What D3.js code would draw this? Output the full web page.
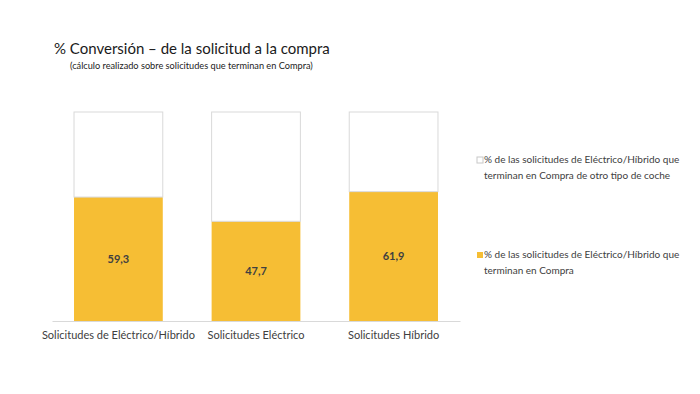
<html>
<head>
<style>
  body { margin: 0; background: #fff; }
  svg text { font-family: Lato, "Open Sans", sans-serif; }
  .cat text { fill: #404040; font-size: 11px; }
  .legend text { fill: #404040; font-size: 10px; }
</style>
</head>
<body>
<svg id="chart" width="700" height="394"></svg>
<script src="https://d3js.org/d3.v7.min.js"></script>
<script>
// data
const categories = ["Solicitudes de Eléctrico/Híbrido", "Solicitudes Eléctrico", "Solicitudes Híbrido"]
const compra = [59.3, 47.7, 61.9]
const otro = compra.map(v => 100 - v)   // rest of the 100% stack
const seriesNames = [
  "% de las solicitudes de Eléctrico/Híbrido que terminan en Compra",
  "% de las solicitudes de Eléctrico/Híbrido que terminan en Compra de otro tipo de coche"
]
const colors = ["#F6BE34", "#ffffff"]

let svg = d3.select("#chart")

// titles
svg.append("text")
  .attr("x", 54).attr("y", 54)
  .attr("font-size", "15px").attr("fill", "#1a1a1a")
  .text("% Conversión – de la solicitud a la compra")
svg.append("text")
  .attr("x", 70).attr("y", 69)
  .attr("font-size", "9.2px").attr("fill", "#222")
  .text("(cálculo realizado sobre solicitudes que terminan en Compra)")

let xScale = d3.scaleBand().domain(categories).range([52, 460]).paddingInner(0.355).paddingOuter(0.16)
let yScale = d3.scaleLinear().domain([0, 100]).range([321, 112])

let rows = categories.map((c, i) => ({cat: c, compra: compra[i], otro: otro[i]}))
let stack = d3.stack().keys(["compra", "otro"])(rows)

let body = svg.append("g")
stack.forEach((layer, li) => {
  body.selectAll(null)
    .data(layer)
    .enter()
    .append("rect")
    .attr("x", d => xScale(d.data.cat))
    .attr("width", xScale.bandwidth())
    .attr("y", d => yScale(d[1]))
    .attr("height", d => yScale(d[0]) - yScale(d[1]))
    .attr("fill", colors[li])
    .attr("stroke", li == 1 ? "#d9d9d9" : "none")
    .attr("stroke-width", 1)
})

// value labels on the yellow part
body.selectAll(".val")
  .data(rows)
  .enter()
  .append("text")
  .attr("class", "val")
  .attr("x", d => xScale(d.cat) + xScale.bandwidth() / 2)
  .attr("y", d => (yScale(0) + yScale(d.compra)) / 2 + 4)
  .attr("text-anchor", "middle")
  .attr("font-size", "11px")
  .attr("font-weight", "bold")
  .attr("fill", "#404040")
  .text(d => d3.format(".1f")(d.compra).replace(".", ","))

// x axis
let xAxis = svg.append("g")
  .attr("class", "cat")
  .attr("transform", "translate(0," + yScale(0) + ")")
  .call(d3.axisBottom(xScale).tickSize(0).tickPadding(10))
xAxis.select("path.domain").attr("stroke", "#d9d9d9")

// legend
let legend = svg.append("g").attr("class", "legend")
let legendItems = [
  {name: seriesNames[1], color: colors[1], y: 163},
  {name: seriesNames[0], color: colors[0], y: 258}
]
legendItems.forEach(item => {
  let g = legend.append("g").attr("transform", "translate(477," + item.y + ")")
  g.append("rect")
    .attr("x", 0).attr("y", -6).attr("width", 6).attr("height", 6)
    .attr("fill", item.color)
    .attr("stroke", item.color == "#ffffff" ? "#c8c8c8" : "none")
  let words = item.name.split(" ")
  let cut = words.indexOf("que") + 1
  g.append("text").attr("x", 7).attr("y", 0).text(words.slice(0, cut).join(" "))
  g.append("text").attr("x", 7).attr("y", 16).text(words.slice(cut).join(" "))
})
</script>
</body>
</html>
